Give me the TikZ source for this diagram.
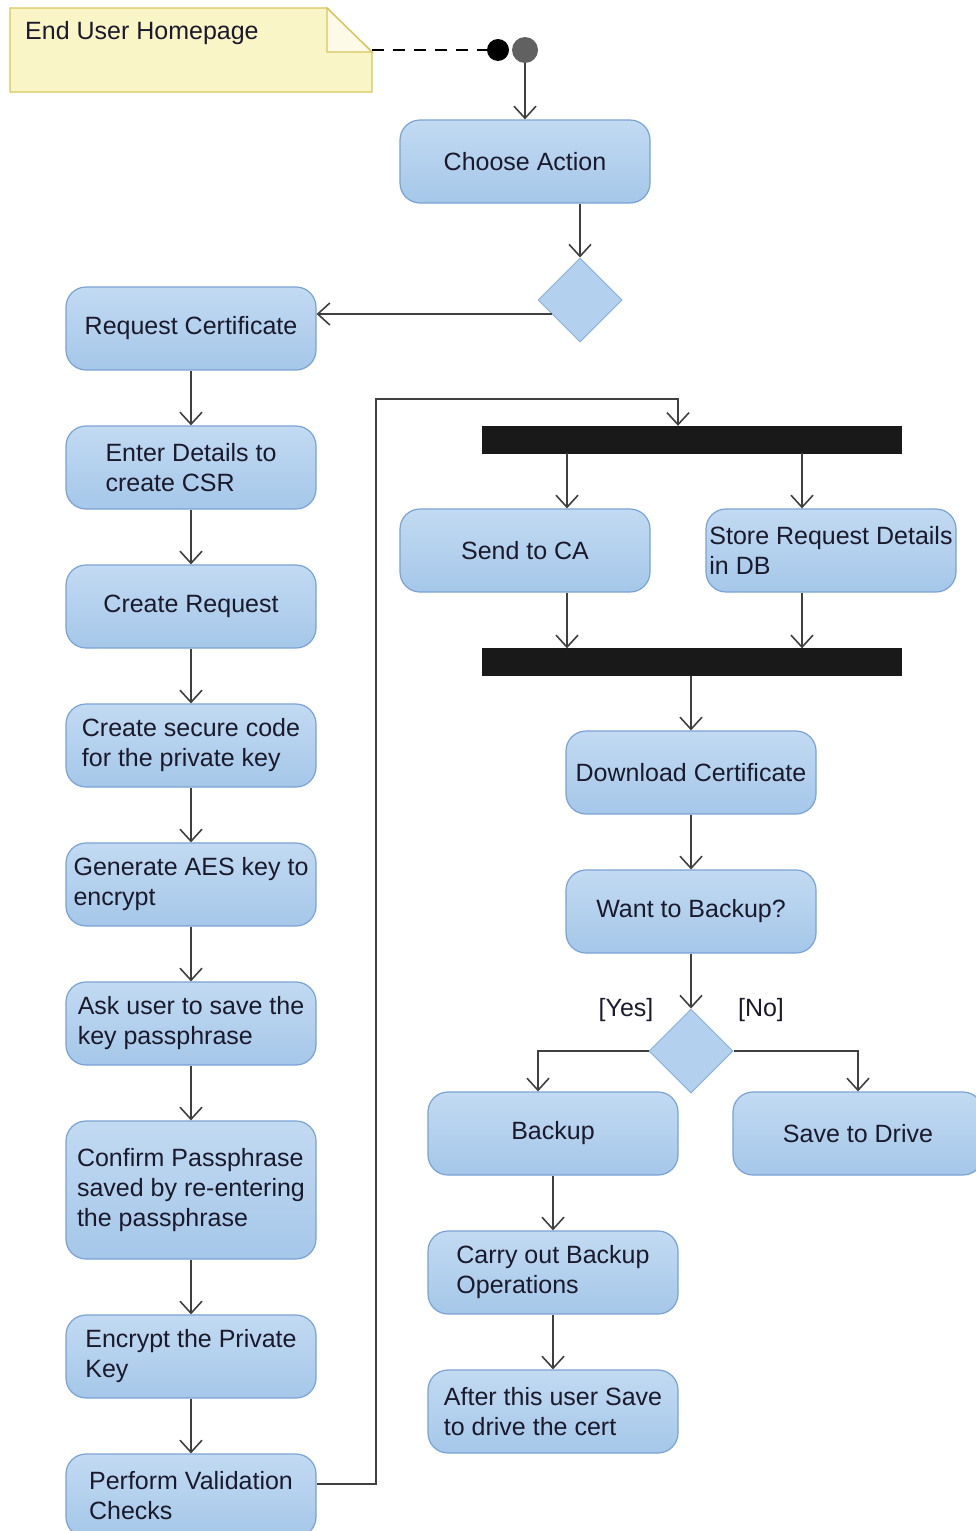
\documentclass[tikz,border=0pt]{standalone}
\usepackage{fontspec}
\setmainfont{Liberation Sans}
\usetikzlibrary{arrows.meta,shapes.geometric}

\definecolor{actTop}{HTML}{C2DAF2}
\definecolor{actBot}{HTML}{A5C7E9}
\definecolor{actLine}{HTML}{7AA2D4}
\definecolor{decFill}{HTML}{B3D0EE}
\definecolor{decLine}{HTML}{8DB2DE}
\definecolor{noteFill}{HTML}{FAF5C6}
\definecolor{noteLine}{HTML}{D8C65C}
\definecolor{flowLine}{HTML}{404040}
\definecolor{ink}{HTML}{1A1A2C}

\tikzset{
  action/.style={rectangle, rounded corners=20pt, draw=actLine, line width=1.2pt,
    top color=actTop, bottom color=actBot, minimum width=250pt, minimum height=83pt,
    inner sep=1pt, align=left, text=ink, font=\fontsize{25}{30}\selectfont},
  decision/.style={diamond, draw=decLine, line width=1pt, fill=decFill,
    minimum width=84pt, minimum height=84pt, inner sep=0pt},
  bar/.style={rectangle, fill=black!90, draw=black!90, minimum width=419pt,
    minimum height=27pt, inner sep=0pt},
  flow/.style={draw=flowLine, line width=1.6pt,
    -{Straight Barb[length=12pt,width=22pt,line width=1.6pt]}},
  guard/.style={text=ink, font=\fontsize{25}{30}\selectfont, inner sep=0pt},
}

\begin{document}
\begin{tikzpicture}[x=1pt,y=-1pt]
\useasboundingbox (0,0) rectangle (976,1531);

% note with folded corner
\draw[fill=noteFill, draw=noteLine, line width=1.4pt]
  (10,8) -- (327,8) -- (372,52) -- (372,92) -- (10,92) -- cycle;
\draw[fill=noteFill!40, draw=noteLine, line width=1.4pt]
  (327,8) -- (327,52) -- (372,52) -- cycle;
\node[guard, anchor=west] (note) at (25,33) {End User Homepage};
\coordinate (noteedge) at (372,50);

% initial node
\node[circle, fill=black, minimum size=22pt, inner sep=0pt] (init) at (498,50) {};
\node[circle, fill=black!62, minimum size=26pt, inner sep=0pt] (start) at (525,50) {};
\draw[line width=1.5pt, dash pattern=on 12pt off 9pt] (noteedge) -- (init.west);

% main flow
\node[action, align=center] (choose) at (525,161.5) {Choose Action};
\node[decision] (d1) at (580,300) {};

\node[action, align=center] (req) at (191,328.5) {Request Certificate};
\node[action] (enter) at (191,467.5) {Enter Details to\\create CSR};
\node[action, align=center] (create) at (191,606.5) {Create Request};
\node[action] (secure) at (191,745.5) {Create secure code\\for the private key};
\node[action] (aes) at (191,884.5) {Generate AES key to\\encrypt};
\node[action] (ask) at (191,1023.5) {Ask user to save the\\key passphrase};
\node[action, minimum height=138pt] (confirm) at (191,1190) {Confirm Passphrase\\saved by re-entering\\the passphrase};
\node[action] (encrypt) at (191,1356.5) {Encrypt the Private\\Key};
\node[action] (perform) at (191,1495.5) {Perform Validation\\Checks};

\node[bar] (fork1) at (691.5,439.5) {};
\node[action, align=center] (sendca) at (525,550.5) {Send to CA};
\node[action] (store) at (831,550.5) {Store Request Details\\in DB};
\node[bar] (fork2) at (691.5,662) {};

\node[action, align=center] (download) at (691,772.5) {Download Certificate};
\node[action, align=center] (want) at (691,911.5) {Want to Backup?};
\node[decision] (d2) at (691,1051) {};
\node[guard] (yes) at (626,1010) {[Yes]};
\node[guard] (no) at (761,1010) {[No]};

\node[action, align=center] (backup) at (553,1133.5) {Backup};
\node[action, align=center] (save) at (858,1133.5) {Save to Drive};
\node[action] (carry) at (553,1272.5) {Carry out Backup\\Operations};
\node[action] (after) at (553,1411.5) {After this user Save\\to drive the cert};

\coordinate (route) at (376,399);

% connectors
\draw[flow] (start.south) -- (choose.north);
\draw[flow] ([xshift=55pt]choose.south) -- (d1.north);
\draw[flow] ([xshift=14pt,yshift=-14pt]d1.west) -- ([yshift=14.5pt]req.east);
\draw[flow] (req) -- (enter);
\draw[flow] (enter) -- (create);
\draw[flow] (create) -- (secure);
\draw[flow] (secure) -- (aes);
\draw[flow] (aes) -- (ask);
\draw[flow] (ask) -- (confirm);
\draw[flow] (confirm) -- (encrypt);
\draw[flow] (encrypt) -- (perform);
\draw[flow] ([yshift=11.5pt]perform.east) -| (route) -| ([xshift=-13.5pt]fork1.north);
\draw[flow] ([xshift=42pt]sendca.north |- fork1.south) -- ([xshift=42pt]sendca.north);
\draw[flow] ([xshift=-29pt]store.north |- fork1.south) -- ([xshift=-29pt]store.north);
\draw[flow] ([xshift=42pt]sendca.south) -- ([xshift=42pt]sendca.south |- fork2.north);
\draw[flow] ([xshift=-29pt]store.south) -- ([xshift=-29pt]store.south |- fork2.north);
\draw[flow] (download.north |- fork2.south) -- (download.north);
\draw[flow] (download) -- (want);
\draw[flow] (want.south) -- (d2.north);
\draw[flow] (d2.west) -| ([xshift=-15pt]backup.north);
\draw[flow] (d2.east) -| (save.north);
\draw[flow] (backup) -- (carry);
\draw[flow] (carry) -- (after);
\end{tikzpicture}
\end{document}
